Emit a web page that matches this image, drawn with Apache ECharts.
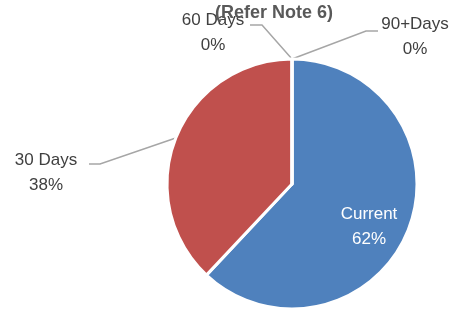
<!DOCTYPE html>
<html>
<head>
<meta charset="utf-8">
<script src="https://cdn.jsdelivr.net/npm/echarts@6/dist/echarts.min.js"></script>
<style>
  html, body { margin: 0; padding: 0; background: #fff; }
  #chart { width: 454px; height: 309px; }
</style>
</head>
<body>
<div id="chart"></div>
<script>
// 数据
const categories = ['Current', '30 Days', '60 Days', '90+Days']
const shares = [62, 38, 0, 0]
const colors = ['#4F81BD', '#C0504D', '#9BBB59', '#8064A2']

// label centre and elbow for each slice
const labelSpots = [
  { x: 369, y: 227 },
  { x: 46, y: 173, bend: [100, 164], end: [89, 164] },
  { x: 213, y: 33, bend: [262, 25], end: [250, 25] },
  { x: 415, y: 37, bend: [366, 31], end: [378, 31] }
]

const drawEcharts = (option, id) => {
  let dom = document.getElementById(id)
  let echart = echarts.init(dom)
  option && echart.setOption(option)
  window.addEventListener('resize', function () {
    echart.resize()
  })
}

const agingPie = (id) => {
  const option = {
    animation: false,
    title: {
      text: '(Refer Note 6)',
      left: 274,
      textAlign: 'center',
      top: 4,
      padding: 0,
      textStyle: { fontFamily: 'Liberation Sans', fontSize: 18, fontWeight: 'bold', color: '#595959' }
    },
    series: [{
      type: 'pie',
      center: [292, 184],
      radius: 125,
      startAngle: 90,
      clockwise: true,
      avoidLabelOverlap: false,
      percentPrecision: 0,
      itemStyle: { borderColor: '#fff', borderWidth: 3 },
      label: {
        formatter: '{b}\n{d}%',
        fontFamily: 'Liberation Sans',
        fontSize: 17,
        lineHeight: 25,
        color: '#404040'
      },
      labelLine: {
        show: true,
        lineStyle: { color: '#A6A6A6', width: 1.5 }
      },
      labelLayout: function (params) {
        const s = labelSpots[params.dataIndex]
        const out = { x: s.x, y: s.y, align: 'center', verticalAlign: 'middle' }
        if (s.bend && params.labelLinePoints) {
          out.labelLinePoints = [params.labelLinePoints[0], s.bend, s.end]
        }
        return out
      },
      data: categories.map((name, i) => ({
        name: name,
        value: shares[i],
        itemStyle: { color: colors[i] },
        label: i === 0 ? { position: 'inside', color: '#fff' } : { position: 'outside' },
        labelLine: { show: i !== 0 }
      }))
    }]
  }
  drawEcharts(option, id)
}

agingPie('chart')
</script>
</body>
</html>
